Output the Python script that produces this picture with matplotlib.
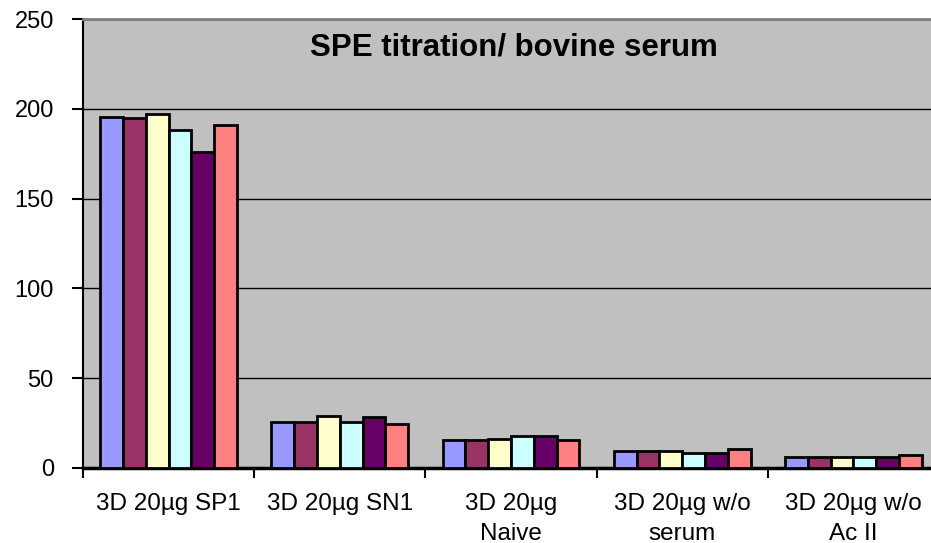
import matplotlib
matplotlib.use("Agg")
import matplotlib.pyplot as plt
import numpy as np

plt.rcParams["font.family"] = ["Liberation Sans", "DejaVu Sans"]

categories = ["3D 20µg SP1", "3D 20µg SN1", "3D 20µg\nNaive",
              "3D 20µg w/o\nserum", "3D 20µg w/o\nAc II"]
# six titration steps per category
series = [
    [195.5, 25.5, 15.6, 9.2, 6.4],
    [195.0, 25.5, 15.6, 9.2, 6.4],
    [197.0, 29.0, 16.3, 9.2, 6.4],
    [188.0, 25.5, 18.0, 8.6, 6.4],
    [176.0, 28.4, 18.0, 8.6, 6.4],
    [191.0, 24.4, 15.6, 10.8, 7.2],
]
colors = ["#9999FF", "#993366", "#FFFFCC", "#CCFFFF", "#660066", "#FF8080"]
yticks = [0, 50, 100, 150, 200, 250]

fig = plt.figure(figsize=(9.31, 5.43), dpi=100)
ax = fig.add_axes([83 / 931, 75 / 543, 856 / 931, 449 / 543])
ax.set_facecolor("#C0C0C0")

x = np.arange(len(categories))
w = 0.8 / len(series)
for i, (vals, c) in enumerate(zip(series, colors)):
    ax.bar(x + (i - 2.5) * w, vals, width=w, color=c,
           edgecolor="black", linewidth=2, zorder=3)

ax.set_xlim(-0.5, len(categories) - 0.5)
ax.set_ylim(0, 250)
ax.set_yticks(yticks)
ax.set_yticklabels([str(t) for t in yticks], fontsize=17)
ax.yaxis.grid(True, color="black", linewidth=1, zorder=1)
ax.set_axisbelow(True)

# category labels centred, ticks on the boundaries
ax.set_xticks(x)
ax.set_xticklabels(categories, fontsize=17.5, va="top", linespacing=1.45)
ax.tick_params(axis="x", which="major", length=0, pad=18)
ax.set_xticks(np.arange(len(categories) + 1) - 0.5, minor=True)
ax.tick_params(axis="x", which="minor", length=7, width=1.5, direction="out")
ax.tick_params(axis="y", length=8, width=1.5, direction="out", pad=13)

for side in ("left", "bottom"):
    ax.spines[side].set_color("black")
ax.spines["left"].set_linewidth(1.5)
ax.spines["bottom"].set_linewidth(2.5)
ax.spines["top"].set_color("#808080")
ax.spines["top"].set_linewidth(2)
ax.spines["right"].set_visible(False)

ax.text(0.503, 0.937, "SPE titration/ bovine serum", transform=ax.transAxes,
        ha="center", va="center", fontsize=22.5, fontweight="bold", zorder=5)

fig.savefig("out.png", dpi=100)
